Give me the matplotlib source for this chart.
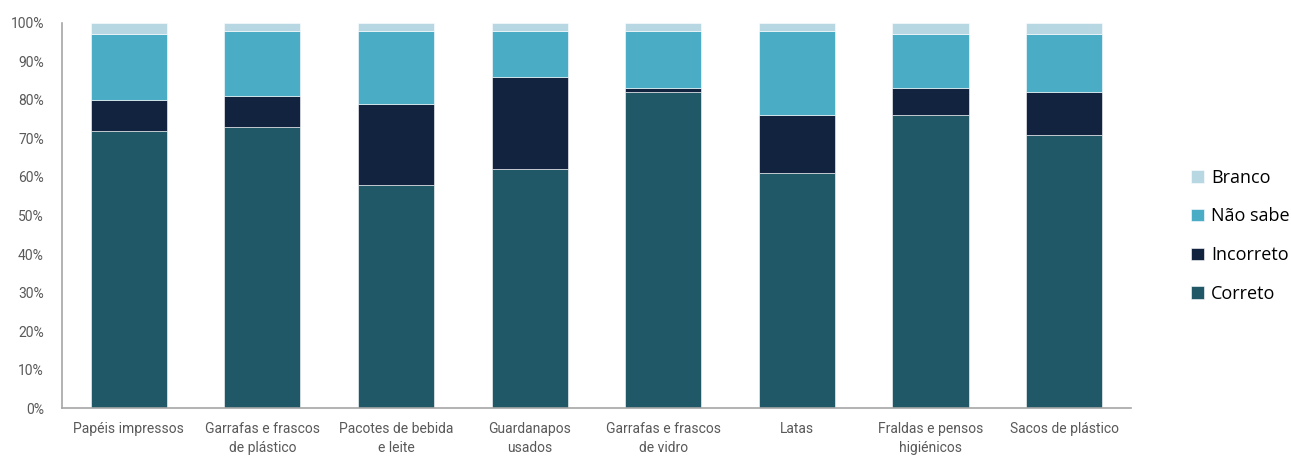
import matplotlib.pyplot as plt
import numpy as np
from matplotlib.ticker import PercentFormatter

categories = ["Papéis impressos", "Garrafas e frascos\nde plástico",
              "Pacotes de bebida\ne leite", "Guardanapos\nusados",
              "Garrafas e frascos\nde vidro", "Latas",
              "Fraldas e pensos\nhigiénicos", "Sacos de plástico"]
correto = [72, 73, 58, 62, 82, 61, 76, 71]
incorreto = [8, 8, 21, 24, 1, 15, 7, 11]
nao_sabe = [17, 17, 19, 12, 15, 22, 14, 15]
branco = [3, 2, 2, 2, 2, 2, 3, 3]

series = [("Correto", correto, "#215868"),
          ("Incorreto", incorreto, "#12233f"),
          ("Não sabe", nao_sabe, "#4bacc6"),
          ("Branco", branco, "#b7d7e3")]

fig = plt.figure(figsize=(12.91, 4.58), dpi=100)
ax = fig.add_axes([0.048, 0.109, 0.828, 0.841])

x = np.arange(len(categories))
bottom = np.zeros(len(categories))
handles = []
for name, vals, color in series:
    b = ax.bar(x, vals, 0.57, bottom=bottom, color=color, label=name,
               edgecolor="white", linewidth=0.4)
    bottom += np.array(vals)
    handles.append(b)

ax.set_xlim(-0.5, 7.5)
ax.set_ylim(0, 100)
ax.set_yticks(np.arange(0, 101, 10))
ax.yaxis.set_major_formatter(PercentFormatter(decimals=0))
ax.set_xticks(x)
ax.set_xticklabels(categories, linespacing=1.5)
for lbl in ax.get_xticklabels() + ax.get_yticklabels():
    lbl.set_fontfamily("Roboto")
ax.tick_params(length=0, colors="#595959", labelsize=10)
ax.tick_params(axis="x", pad=10)
ax.tick_params(axis="y", pad=13)
for s in ["top", "right"]:
    ax.spines[s].set_visible(False)
for s in ["left", "bottom"]:
    ax.spines[s].set_color("#a6a6a6")
    ax.spines[s].set_linewidth(1.2)

fig.legend(handles[::-1], [h.get_label() for h in handles[::-1]],
           loc="center left", bbox_to_anchor=(0.910, 0.485), frameon=False,
           handlelength=0.7, handleheight=0.7, handletextpad=0.4,
           labelspacing=1.15, prop={"family": "Open Sans", "size": 13})

fig.savefig("out.png", dpi=100)
